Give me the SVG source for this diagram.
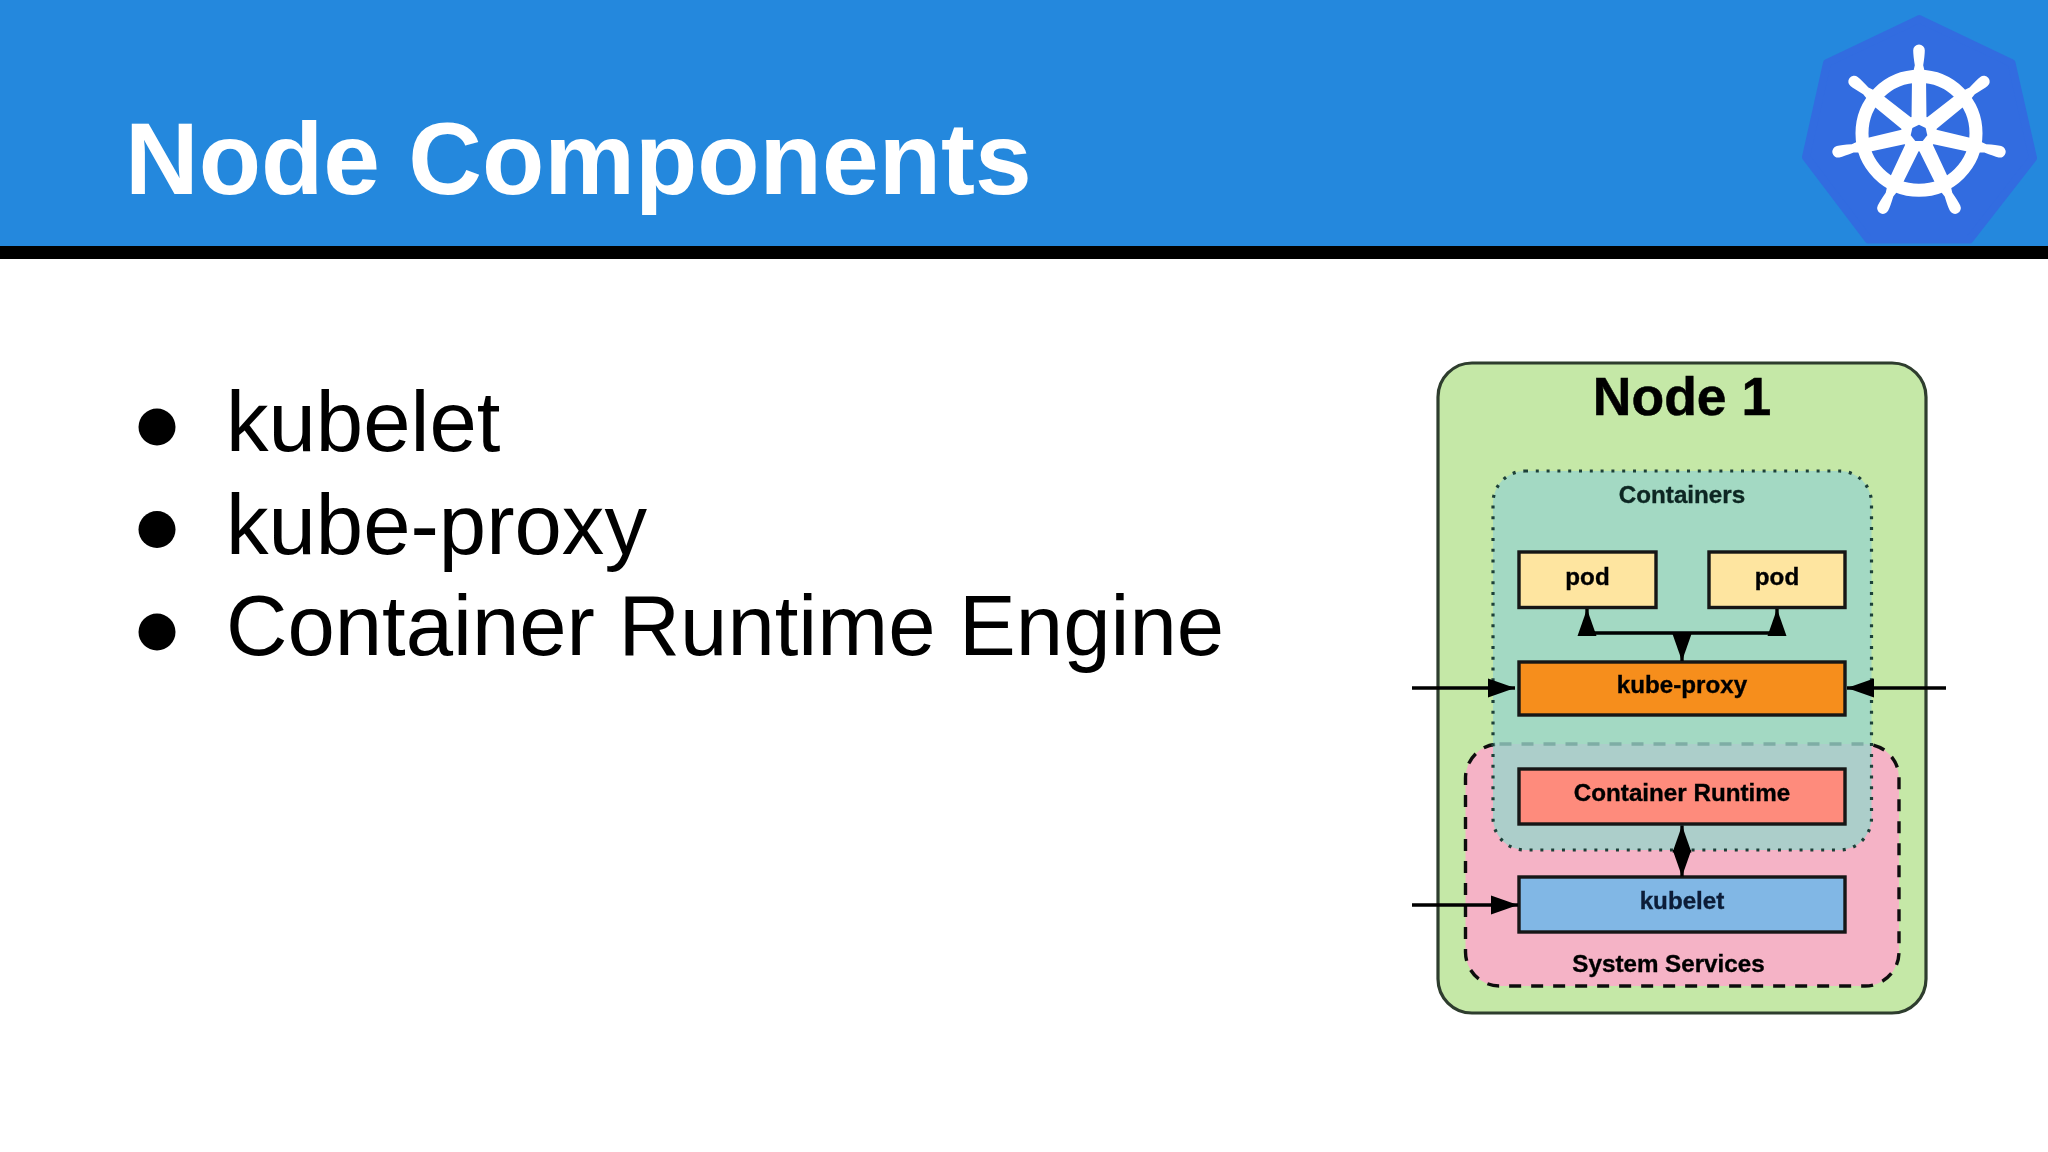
<svg xmlns="http://www.w3.org/2000/svg" width="2048" height="1152" viewBox="0 0 2048 1152">
<style>
text{font-family:"Liberation Sans",Arial,sans-serif}
.title{font-size:102px;font-weight:700;fill:#fff}
.bullet{font-size:85.1px;fill:#000}
.dot{fill:#000}
.box{stroke:#151515;stroke-width:3.4}
.lbl{font-size:24.2px;font-weight:700;fill:#000;stroke:#000;stroke-width:0.35;text-anchor:middle}
.ln{fill:none;stroke:#000;stroke-width:3.4}
</style>
<defs>
<filter id="soft" x="-5%" y="-5%" width="110%" height="110%"><feGaussianBlur stdDeviation="0.6"/></filter>
<marker id="head" markerUnits="userSpaceOnUse" markerWidth="28" markerHeight="24" viewBox="0 0 28 24" refX="27" refY="12" orient="auto-start-reverse"><path d="M0 2.5L27 12L0 21.5z" fill="#000"/></marker>
<g id="spoke"><path d="M-7.5 -12L-7 -56L-4.2 -68Q-5.8 -78 -5.8 -83A5.8 5.8 0 0 1 5.8 -83Q5.8 -78 4.2 -68L7 -56L7.5 -12z" fill="#fff"/></g>
</defs>
<rect width="2048" height="1152" fill="#fff"/>
<g id="banner">
<rect width="2048" height="246" fill="#2488dd"/>
<rect y="246" width="2048" height="13" fill="#000"/>
<text class="title" x="125" y="194">Node Components</text>
</g>
<g id="logo">
<polygon points="1919.3,19 2011.5,63 2033,158 1969.5,239.5 1868.5,239.5 1806,157 1827,63" fill="#326ce0" stroke="#326ce0" stroke-width="8" stroke-linejoin="round"/>
<g transform="translate(1919 133.3)">
<circle r="57" fill="none" stroke="#fff" stroke-width="13"/>
<use href="#spoke"/>
<use href="#spoke" transform="rotate(51.43)"/>
<use href="#spoke" transform="rotate(102.86)"/>
<use href="#spoke" transform="rotate(154.29)"/>
<use href="#spoke" transform="rotate(205.71)"/>
<use href="#spoke" transform="rotate(257.14)"/>
<use href="#spoke" transform="rotate(308.57)"/>
<circle r="18" fill="#fff"/>
<polygon points="0,-8.5 6.65,-5.3 8.29,1.89 3.69,7.66 -3.69,7.66 -8.29,1.89 -6.65,-5.3" fill="#326ce0"/>
</g>
</g>
<g id="bullets">
<circle class="dot" cx="157" cy="427" r="18.5"/>
<circle class="dot" cx="157" cy="529.5" r="18.5"/>
<circle class="dot" cx="157" cy="632" r="18.5"/>
<text class="bullet" x="226" y="451">kubelet</text>
<text class="bullet" x="226" y="554">kube-proxy</text>
<text class="bullet" x="226" y="655">Container Runtime Engine</text>
</g>
<g id="diagram" filter="url(#soft)">
<g id="node1">
<rect x="1438" y="363" width="488" height="650" rx="34" fill="#c5e8a7" stroke="#2f3d2e" stroke-width="3.2"/>
<text x="1682" y="415" style="font-size:53.5px;font-weight:700;fill:#000;stroke:#000;stroke-width:0.5;text-anchor:middle">Node 1</text>
</g>
<g id="system-services">
<rect x="1465.5" y="744" width="433.5" height="242" rx="34" fill="#f5b3c6" stroke="#111" stroke-width="3.4" stroke-dasharray="12 10"/>
<text class="lbl" x="1668.5" y="972">System Services</text>
</g>
<g id="containers">
<rect x="1493" y="471" width="378.5" height="379" rx="32" fill="#9ad4ca" fill-opacity="0.8" stroke="#1f3f39" stroke-width="3.2" stroke-dasharray="3 7.8"/>
<text class="lbl" x="1682" y="503" style="fill:#0c2622;stroke:#0c2622">Containers</text>
</g>
<g id="pod-1">
<rect class="box" x="1519" y="552" width="137" height="55.5" fill="#fee5a0"/>
<text class="lbl" x="1587.5" y="585">pod</text>
</g>
<g id="pod-2">
<rect class="box" x="1709" y="552" width="136" height="55.5" fill="#fee5a0"/>
<text class="lbl" x="1777" y="585">pod</text>
</g>
<g id="kube-proxy">
<rect class="box" x="1519" y="662" width="326" height="53" fill="#f68e1f"/>
<text class="lbl" x="1682" y="693">kube-proxy</text>
</g>
<g id="container-runtime">
<rect class="box" x="1519" y="769" width="326" height="55" fill="#fe8b7c"/>
<text class="lbl" x="1682" y="801">Container Runtime</text>
</g>
<g id="kubelet">
<rect class="box" x="1519" y="877" width="326" height="55" fill="#81b7e5"/>
<text class="lbl" x="1682" y="909" style="fill:#0a1f38;stroke:#0a1f38">kubelet</text>
</g>
<g id="connectors">
<path class="ln" d="M1587 609V633H1777V609" marker-start="url(#head)" marker-end="url(#head)"/>
<path class="ln" d="M1682 633V661" marker-end="url(#head)"/>
<path class="ln" d="M1682 825.5V876.5" marker-start="url(#head)" marker-end="url(#head)"/>
<path class="ln" d="M1412 688H1515" marker-end="url(#head)"/>
<path class="ln" d="M1946 688H1847" marker-end="url(#head)"/>
<path class="ln" d="M1412 905H1518" marker-end="url(#head)"/>
</g>
</g>
</svg>
